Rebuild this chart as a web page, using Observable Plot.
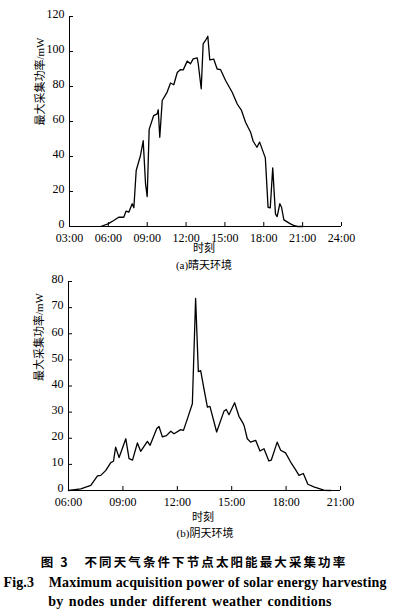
<!DOCTYPE html>
<html>
<head>
<meta charset="utf-8">
<script src="https://cdn.jsdelivr.net/npm/d3@7"></script>
<script src="https://cdn.jsdelivr.net/npm/@observablehq/plot@0.6"></script>
<style>
  html, body { margin: 0; padding: 0; background: #fff; }
  body { width: 393px; height: 613px; position: relative; overflow: hidden;
         font-family: "Liberation Serif", "Noto Sans CJK SC", serif; color: #000; }
  .abs { position: absolute; left: 0; width: 393px; }
  .t { position: absolute; white-space: nowrap; transform: translate(-50%, -50%); line-height: 1; }
  svg { display: block; }
</style>
</head>
<body>
<div id="chartA" class="abs" style="top:0"></div>
<div class="t" style="left:204px; top:248px; font-size:11px">时刻</div>
<div class="t" style="left:204px; top:265px; font-size:11px">(a)晴天环境</div>
<div id="chartB" class="abs" style="top:270px"></div>
<div class="t" style="left:203px; top:517px; font-size:11px">时刻</div>
<div class="t" style="left:205px; top:533px; font-size:11px">(b)阴天环境</div>
<div class="t" style="left:194px; top:562px; font-size:12.5px; font-weight:bold; letter-spacing:2.1px; font-family:'Noto Sans CJK SC', sans-serif">图 3&nbsp;&nbsp;&nbsp;不同天气条件下节点太阳能最大采集功率</div>
<div class="t" style="left:195px; top:583px; font-size:14px; font-weight:bold; letter-spacing:0.15px">Fig.3&nbsp;&nbsp;&nbsp; Maximum acquisition power of solar energy harvesting</div>
<div class="t" style="left:190px; top:602px; font-size:14px; font-weight:bold; letter-spacing:0.3px; word-spacing:1.5px">by nodes under different weather conditions</div>
<script>
// ---- Data: (a) sunny ----
const aHours = [5.4, 5.98, 6.41, 6.8, 7.19, 7.37, 7.58, 7.84, 7.97, 8.15, 8.48, 8.69, 8.87, 9.0, 9.15, 9.5, 9.77, 9.85, 9.97, 10.16, 10.54, 10.8, 11.05, 11.32, 11.57, 11.78, 12.09, 12.34, 12.55, 12.86, 12.94, 13.17, 13.32, 13.5, 13.68, 13.83, 14.14, 14.4, 14.66, 15.05, 15.56, 15.95, 16.28, 16.59, 16.98, 17.18, 17.47, 17.68, 18.12, 18.33, 18.5, 18.69, 18.9, 19.03, 19.24, 19.37, 19.55, 20.06, 20.3, 20.6, 21.0];
const aPower = [0, 1.5, 3.4, 5.3, 5.3, 8.8, 8.2, 13, 10.7, 32, 40.6, 49, 24.4, 17.1, 55.5, 63.4, 64.4, 66.7, 51, 72, 76.8, 82, 81, 88, 89.7, 89.5, 94.5, 93, 95.8, 96.4, 93, 78.7, 104.4, 106.3, 108.7, 95.2, 95.6, 90, 89.7, 83.4, 76.7, 70, 66.3, 59.6, 53.9, 48.7, 45.3, 48.2, 39.2, 11, 10.7, 33.5, 7.2, 5.7, 13, 11, 3.8, 1.5, 0.6, 0, 0];
const aXTicks = [3, 6, 9, 12, 15, 18, 21, 24];
const aXLabels = ["03:00", "06:00", "09:00", "12:00", "15:00", "18:00", "21:00", "24:00"];
const aYTicks = [0, 20, 40, 60, 80, 100, 120];

// ---- Data: (b) cloudy ----
const bHours = [6.0, 6.68, 7.23, 7.6, 7.78, 8.06, 8.33, 8.48, 8.6, 8.79, 9.16, 9.34, 9.53, 9.8, 9.98, 10.35, 10.5, 10.87, 10.99, 11.18, 11.4, 11.64, 11.82, 12.19, 12.34, 12.56, 12.83, 13.01, 13.16, 13.29, 13.47, 13.66, 13.8, 14.17, 14.57, 14.7, 14.85, 15.16, 15.4, 15.59, 15.68, 15.86, 16.04, 16.32, 16.56, 16.78, 17.05, 17.18, 17.51, 17.7, 17.97, 18.25, 18.52, 18.71, 18.95, 19.2, 19.53, 20.08, 20.45];
const bPower = [0, 0.6, 2, 5.6, 5.8, 7.7, 10.7, 11.2, 16.6, 12.6, 19.8, 12.2, 11.6, 18.2, 15, 18.8, 17.3, 23.7, 24.5, 20.5, 21, 22.7, 21.7, 23.3, 23, 27.5, 33.2, 73.5, 45.5, 45.9, 38.9, 31.9, 32.2, 22.4, 30.3, 31, 29, 33.6, 28.4, 26.2, 24.9, 19.8, 18.5, 19.2, 15.1, 16, 11.3, 11.6, 18.5, 15.4, 14.4, 10.9, 8, 5.8, 6.5, 2.4, 1.4, 0.1, 0];
const bXTicks = [6, 9, 12, 15, 18, 21];
const bXLabels = ["06:00", "09:00", "12:00", "15:00", "18:00", "21:00"];
const bYTicks = [0, 10, 20, 30, 40, 50, 60, 70, 80];

const yLabel = "最大采集功率/mW";

function makeChart({hours, power, xTicks, xLabels, yTicks, xDomain, yDomain, height, mt, mb, ml, mr, labelDy}) {
  const data = hours.map((h, i) => ({h, p: power[i]}));
  const innerH = height - mt - mb;
  const innerW = 393 - ml - mr;
  return Plot.plot({
    width: 393, height,
    marginTop: mt, marginBottom: mb, marginLeft: ml, marginRight: mr,
    style: {fontFamily: "'Liberation Serif', 'Noto Sans CJK SC', serif", fontSize: "12px", background: "transparent", color: "#000", overflow: "visible"},
    x: {domain: xDomain},
    y: {domain: yDomain},
    marks: [
      Plot.axisX({ticks: xTicks, tickSize: 0, tickPadding: 7, tickFormat: d => xLabels[xTicks.indexOf(d)], label: null}),
      Plot.axisY({ticks: yTicks, tickSize: 0, tickPadding: 5, label: null, dy: -2}),
      Plot.tickX(xTicks, {x: d => d, insetTop: innerH - 4, stroke: "#000"}),
      Plot.tickY(yTicks, {y: d => d, insetRight: innerW - 4, stroke: "#000"}),
      Plot.ruleY([yDomain[0]], {stroke: "#000"}),
      Plot.ruleX([xDomain[0]], {stroke: "#000"}),
      Plot.line(data, {x: "h", y: "p", stroke: "#000", strokeWidth: 1.3}),
      Plot.text([yLabel], {text: d => d, frameAnchor: "left", rotate: -90, dx: -29, dy: labelDy, fontSize: 11, fill: "#000"})
    ]
  });
}

document.getElementById("chartA").append(makeChart({
  hours: aHours, power: aPower, xTicks: aXTicks, xLabels: aXLabels, yTicks: aYTicks,
  xDomain: [3, 24], yDomain: [0, 120], height: 246, mt: 16, mb: 20, ml: 69, mr: 52, labelDy: 4
}));
document.getElementById("chartB").append(makeChart({
  hours: bHours, power: bPower, xTicks: bXTicks, xLabels: bXLabels, yTicks: bYTicks,
  xDomain: [6, 21], yDomain: [0, 80], height: 240, mt: 11, mb: 20, ml: 68, mr: 53, labelDy: -5
}));
</script>
</body>
</html>
